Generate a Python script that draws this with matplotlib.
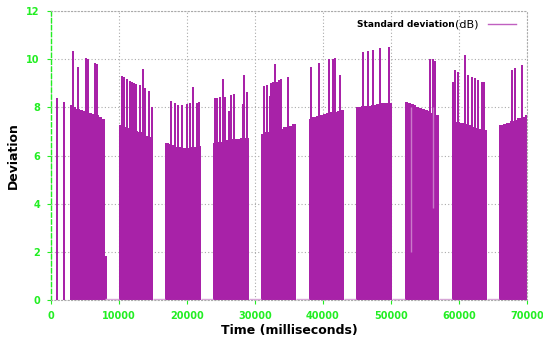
import numpy as np
import matplotlib
matplotlib.use("Agg")
import matplotlib.pyplot as plt

# block start / end times (ms)
block_start = [2790, 10000, 16760, 23770, 30880, 37940, 44850, 52060, 58920, 65880]
block_end = [7940, 15050, 22010, 29120, 36030, 43040, 50100, 57060, 64160, 70200]

# base level of each block, left to right
block_levels = [
    [8.10, 8.03, 7.93, 7.89, 7.85, 7.79, 7.75, 7.72, 7.68, 7.59, 7.53],
    [7.27, 7.20, 7.16, 7.06, 7.02, 6.99, 6.85, 6.81, 6.76],
    [6.51, 6.46, 6.42, 6.37, 6.37, 6.31, 6.31, 6.34, 6.34, 6.40],
    [6.53, 6.56, 6.60, 6.65, 6.68, 6.69, 6.71, 6.71],
    [6.89, 6.96, 7.02, 7.06, 7.12, 7.17, 7.23, 7.30],
    [7.53, 7.58, 7.64, 7.68, 7.74, 7.78, 7.80, 7.81, 7.85, 7.89],
    [8.01, 8.04, 8.05, 8.10, 8.13, 8.18, 8.20],
    [8.22, 8.18, 8.14, 8.08, 8.03, 7.99, 7.94, 7.89, 7.84, 7.78, 7.74, 7.70],
    [7.47, 7.41, 7.34, 7.30, 7.26, 7.20, 7.16, 7.10, 7.06],
    [7.27, 7.30, 7.37, 7.44, 7.47, 7.54, 7.61, 7.67],
]

# isolated peaks (ms, dB)
spike_t = [850, 1950, 8010,
           3190, 3970, 5100, 5490, 6420, 6810,
           10440, 10740, 11130, 11670, 11960, 12210, 12500, 13090, 13530, 13870, 14410, 14800,
           17600, 18180, 18730, 19260, 19950, 20440, 20880, 21420, 21710,
           24070, 24360, 24850, 25240, 25590, 26220, 26470, 26910, 28190, 28380, 28770,
           31320, 31710, 32200, 32400, 32700, 32890, 33190, 33570, 33870, 34850,
           38280, 39460, 40930, 41470, 41810, 42540,
           45930, 46670, 47400, 48380, 49660,
           55740, 56130, 56520,
           59170, 59410, 59800, 60830, 61270, 61910, 62350, 62790, 63330, 63730,
           67750, 68190, 69260]
spike_v = [8.38, 8.24, 1.83,
           10.35, 9.66, 10.04, 10.0, 9.86, 9.79,
           9.30, 9.25, 9.17, 9.11, 9.07, 9.03, 8.97, 8.93, 9.58, 8.79, 8.69, 8.00,
           8.26, 8.17, 8.10, 8.10, 8.13, 8.17, 8.86, 8.20, 8.22,
           8.37, 8.40, 8.41, 9.16, 8.44, 7.85, 8.51, 8.54, 8.13, 9.34, 8.65,
           8.89, 8.93, 8.47, 9.00, 9.04, 9.80, 9.07, 9.14, 9.16, 9.25,
           9.69, 9.83, 10.00, 10.02, 10.05, 9.34,
           10.30, 10.35, 10.37, 10.45, 10.50,
           10.00, 10.00, 9.93,
           9.07, 9.55, 9.48, 10.17, 9.34, 9.25, 9.20, 9.14, 9.07, 9.06,
           9.55, 9.62, 9.76]

# narrow drops inside blocks
dip_t = [53010, 56180]
dip_v = [2.0, 3.8]

purple = "#a822a8"
green = "#22ee22"

fig = plt.figure(figsize=(5.43, 3.37), dpi=100)
ax = fig.add_axes([51 / 543, 37 / 337, 476 / 543, 289 / 337])

for s, e, lv in zip(block_start, block_end, block_levels):
    edges = np.linspace(s, e, len(lv) + 1)
    ax.stairs(lv, edges, fill=True, color=purple, lw=0)

ax.bar(spike_t, spike_v, width=320, color=purple, lw=0)

for s, e in zip(block_end[:-1], block_start[1:]):
    ax.hlines(0.04, s, e, color="#d9a6d9", lw=1)

for t, v in zip(dip_t, dip_v):
    ax.vlines(t, v, 8.0, color="white", alpha=0.4, lw=1)

ax.set_xlim(0, 70000)
ax.set_ylim(0, 12)
ax.set_xticks(range(0, 70001, 10000))
ax.set_yticks(range(0, 13, 2))
ax.grid(True, color="#aaaaaa", ls=(0, (1, 2)), lw=0.8)
ax.set_axisbelow(True)

for side in ["top", "right", "bottom"]:
    ax.spines[side].set_color("#aaaaaa")
    ax.spines[side].set_linestyle((0, (1, 2)))
    ax.spines[side].set_linewidth(0.8)
ax.spines["left"].set_color(green)
ax.spines["left"].set_linestyle((0, (3, 2)))
ax.spines["left"].set_linewidth(1.0)

ax.tick_params(colors=green, length=3, width=0.8, labelsize=7, pad=5)
for lab in ax.get_xticklabels() + ax.get_yticklabels():
    lab.set_fontweight("bold")
    lab.set_color(green)

ax.set_xlabel("Time (milliseconds)", fontsize=9, fontweight="bold", labelpad=2)
ax.set_ylabel("Deviation", fontsize=9, fontweight="bold", labelpad=5)

ax.text(0.849, 0.955, "Standard deviation", transform=ax.transAxes, ha="right", va="center",
        fontsize=6.5, fontweight="bold")
ax.text(0.849, 0.955, "(dB)", transform=ax.transAxes, ha="left", va="center", fontsize=8)
ax.plot([0.918, 0.977], [0.955, 0.955], transform=ax.transAxes, color="#c060c0", lw=1)

fig.savefig("out.png", dpi=100)
